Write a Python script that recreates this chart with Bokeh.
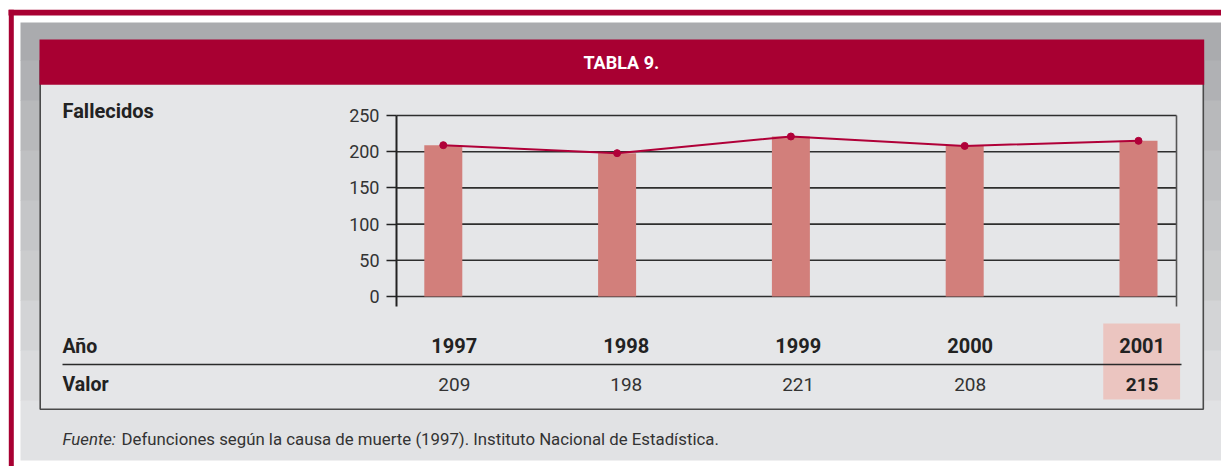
from bokeh.plotting import figure
from bokeh.models import Range1d, FixedTicker, LinearAxis
from bokeh.core.properties import value
from bokeh.embed import file_html
from bokeh.resources import INLINE

# ---------------- data ----------------
years = [1997, 1998, 1999, 2000, 2001]
values = [209, 198, 221, 208, 215]
y_ticks = [0, 50, 100, 150, 200, 250]
title_text = "TABLA 9."
y_title = "Fallecidos"
row_labels = ["Año", "Valor"]
source_italic = "Fuente:"
source_text = "Defunciones según la causa de muerte (1997). Instituto Nacional de Estadística."
highlight_year = 2001

# ---------------- style ----------------
RED = "#a80032"
PANEL = "#e5e6e8"
BAR = "#d27f7b"
LINE = "#b00038"
HIGHLIGHT = "#ebc5c0"
INK = "#222222"
SOFT = "#333333"
FONT = "Roboto"

# page geometry in pixels (figure fills the page from 0,0)
W, H = 1221, 466
FRAME_L, FRAME_T, FRAME_R, FRAME_B = 396, 115, 1176, 306   # chart box
ZERO_Y = 296                                              # pixel row of value 0
BAR_X0, BAR_STEP = 442.8, 173.8                           # chart column grid
TAB_X0, TAB_STEP = 453.8, 171.95                          # table column grid

px_per_unit = (ZERO_Y - FRAME_T) / y_ticks[-1]


def cx(X):
    return years[0] + (X - BAR_X0) / BAR_STEP


def tx(X):
    return years[0] + (X - TAB_X0) / TAB_STEP


def cy(Y):
    return (ZERO_Y - Y) / px_per_unit


p = figure(
    width=W, height=H,
    x_range=Range1d(0, W), y_range=Range1d(H, 0),
    x_axis_location=None, y_axis_location=None,
    output_backend="svg", toolbar_location=None, title=None,
    min_border=0, min_border_left=0, min_border_right=0,
    min_border_top=0, min_border_bottom=0,
)
p.extra_x_ranges = {"cx": Range1d(cx(0), cx(W)), "tx": Range1d(tx(0), tx(W))}
p.extra_y_ranges = {"cy": Range1d(cy(H), cy(0))}
p.border_fill_color = "white"
p.background_fill_color = "white"
p.outline_line_color = None
p.xgrid.visible = False
p.ygrid.visible = False


def box(x0, y0, x1, y1, fill, line=None, lw=1.0):
    p.quad(left=[x0], right=[x1], top=[y0], bottom=[y1], fill_color=fill,
           line_color=line, line_width=lw)


# ---- decorations (page pixels) ----
box(8, 9.3, W, 15, RED)
box(8.3, 9.3, 13.3, H, RED)
band_edges = [22, 60, 100, 150, 200, 250, 300, 350, 400, 460]
band_colors = ["#aaabae", "#b0b1b4", "#b8b9bb", "#bfc0c2", "#c5c6c8",
               "#cbcccd", "#d3d4d6", "#dadbdd", "#e1e2e4"]
for i, c in enumerate(band_colors):
    box(20, band_edges[i], W, band_edges[i + 1] + (0.5 if i < len(band_colors) - 1 else 0), c)

box(39.7, 60, 1202.8, 408.8, PANEL, line="#4a4a4a", lw=1.6)
box(39, 39, 1203.7, 84.3, RED)

# highlight cell of the last year (x through the table column scale)
p.quad(left=[highlight_year - 0.226], right=[highlight_year + 0.221], top=[323], bottom=[399],
       fill_color=HIGHLIGHT, line_color=None, x_range_name="tx")
# table separator
box(62, 363.2, 1181, 364.8, "#2a2a2a")

# ---- chart ----
gx0, gx1 = cx(FRAME_L), cx(FRAME_R)
p.segment(x0=[gx0] * len(y_ticks), x1=[gx1] * len(y_ticks), y0=y_ticks, y1=y_ticks,
          line_color="#2e2e2e", line_width=1.6, x_range_name="cx", y_range_name="cy")
# right border of the chart box
p.segment(x0=[FRAME_R], x1=[FRAME_R], y0=[FRAME_T], y1=[FRAME_B],
          line_color="#555555", line_width=1.6)

p.vbar(x=years, top=values, bottom=0, width=38 / BAR_STEP, fill_color=BAR, line_color=None,
       x_range_name="cx", y_range_name="cy")
p.line(years, values, line_color=LINE, line_width=2, x_range_name="cx", y_range_name="cy")
p.scatter(years, values, size=7, fill_color=LINE, line_color=LINE,
          x_range_name="cx", y_range_name="cy")

yaxis = LinearAxis(y_range_name="cy", fixed_location=FRAME_L,
                   bounds=(cy(FRAME_B), y_ticks[-1]),
                   ticker=FixedTicker(ticks=y_ticks))
yaxis.major_label_text_font = FONT
yaxis.major_label_text_font_size = "18px"
yaxis.major_label_text_color = SOFT
yaxis.major_tick_out = 10
yaxis.major_tick_in = 0
yaxis.major_tick_line_width = 1.5
yaxis.major_tick_line_color = "#222222"
yaxis.minor_tick_line_color = None
yaxis.axis_line_width = 2
yaxis.axis_line_color = "#222222"
yaxis.major_label_standoff = 7
p.add_layout(yaxis, "left")


# ---- texts ----
def text(x, y, t, size, style="normal", color=INK, align="left", **kw):
    p.text(x=x, y=y, text=t, text_font=value(FONT), text_font_size=value(size),
           text_font_style=style, text_color=color, text_align=align,
           text_baseline="middle", **kw)


text([620.8], [61.5], [title_text], "18px", "bold", "white", "center")
text([62], [110], [y_title], "20px", "bold")
text([62, 62], [345.8, 384.2], row_labels, "19.5px", "bold")

n = len(years)
text(years, [345.3] * n, [str(y) for y in years], "20px", "bold", align="center",
     x_range_name="tx")
text(years, [383.7] * n, [str(v) for v in values], "19px",
     ["bold" if y == highlight_year else "normal" for y in years],
     [INK if y == highlight_year else SOFT for y in years], "center", x_range_name="tx")

text([62], [438.3], [source_italic], "16.8px", "italic", SOFT)
text([121], [438.3], [source_text], "16.8px", "normal", SOFT)

open("out.html", "w").write(file_html(p, INLINE))
